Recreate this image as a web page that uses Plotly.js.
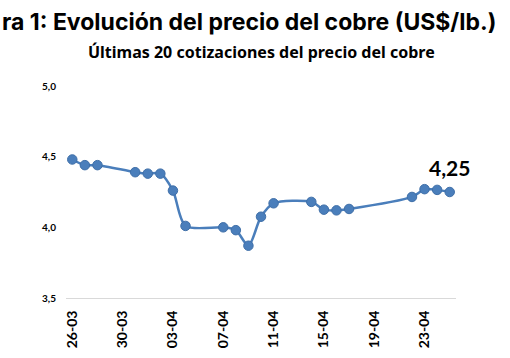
<!DOCTYPE html>
<html>
<head>
<meta charset="utf-8">
<script src="https://cdn.plot.ly/plotly-3.0.1.min.js"></script>
<style>
  html, body { margin: 0; padding: 0; background: #ffffff; }
  #chart { width: 510px; height: 358px; }
</style>
</head>
<body>
<div id="chart"></div>
<script>
// Data
const dates = [
  '2025-03-26', '2025-03-27', '2025-03-28', '2025-03-31', '2025-04-01',
  '2025-04-02', '2025-04-03', '2025-04-04', '2025-04-07', '2025-04-08',
  '2025-04-09', '2025-04-10', '2025-04-11', '2025-04-14', '2025-04-15',
  '2025-04-16', '2025-04-17', '2025-04-22', '2025-04-23', '2025-04-24',
  '2025-04-25'
];
const prices = [
  4.48, 4.44, 4.44, 4.39, 4.38,
  4.38, 4.26, 4.01, 4.00, 3.98,
  3.87, 4.075, 4.17, 4.18, 4.125,
  4.12, 4.13, 4.215, 4.27, 4.265,
  4.25
];
const yTickVals = [3.5, 4.0, 4.5, 5.0];
const yTickText = ['3,5', '4,0', '4,5', '5,0'];
const titleText = 'ra 1: Evolución del precio del cobre (US$/lb.)';
const subtitleText = 'Últimas 20 cotizaciones del precio del cobre';
const lastLabel = '4,25';

const DAY = 86400000;
const blue = '#4a7ebb';

const trace = {
  x: dates,
  y: prices,
  type: 'scatter',
  mode: 'lines+markers',
  line: { color: blue, width: 2.5, shape: 'spline', smoothing: 0.8 },
  marker: { color: blue, size: 9.5, line: { color: '#3f6fa8', width: 1 } },
  hoverinfo: 'x+y'
};

const layout = {
  width: 510,
  height: 358,
  margin: { l: 66, r: 54, t: 86, b: 60 },
  paper_bgcolor: '#ffffff',
  plot_bgcolor: '#ffffff',
  showlegend: false,
  xaxis: {
    type: 'date',
    range: ['2025-03-25 12:00', '2025-04-25 12:00'],
    tick0: '2025-03-26',
    dtick: 4 * DAY,
    tickformat: '%d-%m',
    tickangle: -90,
    ticks: '',
    showgrid: false,
    zeroline: false,
    showline: true,
    linecolor: '#d9d9d9',
    linewidth: 1,
    tickfont: { family: 'Lato, sans-serif', size: 14, color: '#000000', weight: 'bold' },
    ticklabelstandoff: 6
  },
  xaxis2: {
    type: 'date',
    overlaying: 'x',
    anchor: 'y',
    side: 'bottom',
    range: ['2025-03-25 12:00', '2025-04-25 12:00'],
    tick0: '2025-03-25 12:00',
    dtick: 4 * DAY,
    ticks: 'outside',
    ticklen: 5,
    tickcolor: '#d9d9d9',
    tickwidth: 1,
    showticklabels: false,
    showgrid: false,
    zeroline: false,
    showline: false
  },
  yaxis: {
    range: [3.5, 5.0],
    tickvals: yTickVals,
    ticktext: yTickText,
    showgrid: false,
    zeroline: false,
    showline: false,
    ticks: '',
    tickfont: { family: 'Lato, sans-serif', size: 10, color: '#000000', weight: 'bold' },
    ticklabelstandoff: 9
  },
  annotations: [
    {
      text: titleText,
      xref: 'paper', yref: 'paper',
      x: -66 / 390, y: (298 - 22) / 212,
      xanchor: 'left', yanchor: 'middle',
      showarrow: false,
      font: { family: 'Inter, sans-serif', size: 23, color: '#000000', weight: 'bold' }
    },
    {
      text: subtitleText,
      xref: 'paper', yref: 'paper',
      x: 0.5, y: (298 - 52) / 212,
      xanchor: 'center', yanchor: 'middle',
      showarrow: false,
      font: { family: 'Noto Sans, sans-serif', size: 16, color: '#000000', weight: 'bold' }
    },
    {
      text: lastLabel,
      x: dates[dates.length - 1],
      y: prices[prices.length - 1],
      xref: 'x', yref: 'y',
      xanchor: 'center', yanchor: 'middle',
      yshift: 25,
      showarrow: false,
      font: { family: 'Lato, sans-serif', size: 21, color: '#000000', weight: 'bold' }
    }
  ]
};

Plotly.newPlot('chart', [trace], layout, { displayModeBar: false, staticPlot: true });
</script>
</body>
</html>
